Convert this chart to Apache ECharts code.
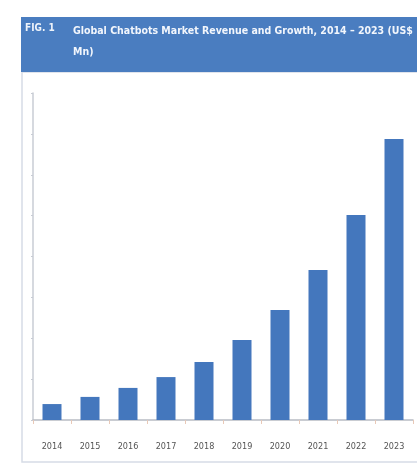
<!DOCTYPE html>
<html><head><meta charset="utf-8">
<script src="https://cdn.jsdelivr.net/npm/echarts@6/dist/echarts.min.js"></script>
<style>html,body{margin:0;padding:0;background:#fff}#c{width:417px;height:465px}</style>
</head><body><div id="c"></div>
<script>
const years = ['2014','2015','2016','2017','2018','2019','2020','2021','2022','2023'];
const revenue = [78, 113, 157, 210, 284, 391, 538, 734, 1003, 1375];
const yMin = 0, yMax = 1600, yStep = 200;
const figLabel = 'FIG. 1';
const titleText = 'Global Chatbots Market Revenue and Growth, 2014 – 2023 (US$\nMn)';

const chart = echarts.init(document.getElementById('c'));
chart.setOption({
  animation: false,
  graphic: [
    {type:'rect', shape:{x:22, y:72, width:420, height:390}, style:{fill:'#fff', stroke:'#d6dce6', lineWidth:1.5}, z:-10},
    {type:'rect', shape:{x:21, y:17, width:400, height:55}, style:{fill:'#4a7dc0'}, z:-5},
    {type:'text', left:25, top:23, style:{text:figLabel, fill:'#eef3fa', font:'bold 10px "DejaVu Sans Condensed", "Liberation Sans Narrow", sans-serif'}},
    {type:'text', left:73, top:21, style:{text:titleText, fill:'#f2f6fc', lineHeight:21, font:'bold 10.5px "DejaVu Sans Condensed", "Liberation Sans Narrow", sans-serif'}}
  ],
  grid: {left:33, right:4, top:93, bottom:45},
  xAxis: {
    type:'category', data: years,
    axisLine:{lineStyle:{color:'#b8bcc4', width:1.5}},
    axisTick:{show:true, length:4, lineStyle:{color:'#e8c9b8'}},
    axisLabel:{color:'#555', fontSize:9, margin:22, fontFamily:'"DejaVu Sans Condensed", sans-serif'}
  },
  yAxis: {
    type:'value', min:yMin, max:yMax, interval:yStep,
    axisLine:{show:true, lineStyle:{color:'#c8ccd4', width:1.5}},
    axisTick:{show:true, length:2, lineStyle:{color:'#c8ccd4'}},
    axisLabel:{show:false},
    splitLine:{show:false}
  },
  series: [{
    type:'bar', data: revenue, barWidth:'50%',
    itemStyle:{color:'#4477bd'}
  }]
});
</script></body></html>
